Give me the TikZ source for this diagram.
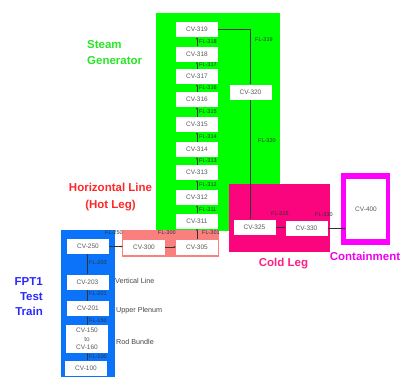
\documentclass[tikz,border=0pt]{standalone}
\usepackage{fontspec}
\setmainfont{Liberation Sans}
\usetikzlibrary{arrows.meta}
\definecolor{sggreen}{RGB}{0,255,0}
\definecolor{coldpink}{RGB}{250,5,125}
\definecolor{hotsalmon}{RGB}{250,128,128}
\definecolor{trainblue}{RGB}{10,115,250}
\definecolor{contmag}{RGB}{255,0,255}
\definecolor{sgtext}{RGB}{40,230,40}
\definecolor{hottext}{RGB}{255,40,40}
\definecolor{coldtext}{RGB}{255,30,130}
\definecolor{conttext}{RGB}{240,0,240}
\definecolor{traintext}{RGB}{40,40,255}
\definecolor{cvgray}{RGB}{90,90,90}
\definecolor{fltxt}{RGB}{50,50,50}
\definecolor{sidegray}{RGB}{70,70,70}
\definecolor{linegray}{RGB}{50,50,50}
\tikzset{
 cv/.style={fill=white, minimum width=42pt, minimum height=15pt, inner sep=0pt, font=\fontsize{6.5}{7}\selectfont, text=cvgray},
 fl/.style={draw=linegray, line width=0.25pt, -{Latex[length=2pt,width=1.8pt]}},
 fltext/.style={font=\fontsize{5.5}{6}\selectfont, text=fltxt, inner sep=0pt, anchor=west},
 ttl/.style={font=\fontsize{11.5}{13}\selectfont\bfseries, inner sep=0pt},
 side/.style={font=\fontsize{7.2}{8}\selectfont, text=sidegray, inner sep=0pt, anchor=west},
}
\begin{document}
\begin{tikzpicture}[x=1pt,y=-1pt]
\useasboundingbox (0,0) rectangle (401,376);
% regions
\fill[sggreen] (156,13) rectangle (280,231);
\fill[coldpink] (229,184) rectangle (330,252);
\fill[hotsalmon] (122,230) rectangle (219,257);
\fill[trainblue] (61,230) rectangle (115,380);
\fill[contmag] (341,173) rectangle (390,245);
% steam generator volumes
\node[cv] (cv319) at (197,29.5) {CV-319};
\node[cv] (cv318) at (197,54) {CV-318};
\node[cv] (cv317) at (197,76.5) {CV-317};
\node[cv] (cv316) at (197,99.5) {CV-316};
\node[cv] (cv315) at (197,124.5) {CV-315};
\node[cv] (cv314) at (197,149.5) {CV-314};
\node[cv] (cv313) at (197,172.5) {CV-313};
\node[cv] (cv312) at (197,197.5) {CV-312};
\node[cv] (cv311) at (197,221) {CV-311};
\node[cv] (cv320) at (250.5,92) {CV-320};
% cold leg, containment
\node[cv] (cv325) at (254.5,227) {CV-325};
\node[cv] (cv330) at (306.5,228.5) {CV-330};
\node[cv, minimum width=40pt, minimum height=60pt, text depth=-10pt] (cv400) at (366,209) {CV-400};
% hot leg
\node[cv] (cv300) at (144,247) {CV-300};
\node[cv] (cv305) at (197,247) {CV-305};
% test train
\node[cv] (cv250) at (88,246) {CV-250};
\node[cv] (cv203) at (87.5,282) {CV-203};
\node[cv] (cv201) at (88,308.5) {CV-201};
\node[cv, minimum height=28pt, align=center, font=\fontsize{6.5}{8.5}\selectfont] (cv150) at (87,339) {CV-150\\to\\CV-160};
\node[cv] (cv100) at (86,368) {CV-100};
% connectors
\draw[fl] (cv318) -- (cv319);
\draw[fl] (cv317) -- (cv318);
\draw[fl] (cv316) -- (cv317);
\draw[fl] (cv315) -- (cv316);
\draw[fl] (cv314) -- (cv315);
\draw[fl] (cv313) -- (cv314);
\draw[fl] (cv312) -- (cv313);
\draw[fl] (cv311) -- (cv312);
\draw[fl] (cv305) -- (cv311);
\draw[fl] (cv319.east) -| (cv320.north);
\draw[fl] (cv320.south) -- (cv320.south |- cv325.north);
\draw[fl] (cv325.east |- 0,227.5) -- (cv330.west |- 0,227.5);
\draw[fl] (cv330.east) -- (cv400.west |- cv330.east);
\draw[fl] (cv250.east |- 0,246.5) -- (cv300.west |- 0,246.5);
\draw[fl] (cv300) -- (cv305);
\draw[fl] (cv203) -- (cv250.south -| cv203);
\draw[fl] (cv201.north -| cv203) -- (cv203);
\draw[fl] (cv150.north -| cv203) -- (cv201.south -| cv203);
\draw[fl] (cv100.north -| cv203) -- (cv150.south -| cv203);
% flow labels
\node[fltext] (fl318) at (199,42) {FL-318};
\node[fltext] (fl317) at (199,65) {FL-317};
\node[fltext] (fl316) at (199,88) {FL-316};
\node[fltext] (fl315) at (199,112) {FL-315};
\node[fltext] (fl314) at (199,137) {FL-314};
\node[fltext] (fl313) at (199,161) {FL-313};
\node[fltext] (fl312) at (199,185) {FL-312};
\node[fltext] (fl311) at (199,209.5) {FL-311};
\node[fltext] (fl319) at (255,40) {FL-319};
\node[fltext] (fl320) at (258,141) {FL-320};
\node[fltext] (fl325) at (271,214) {FL-325};
\node[fltext] (fl330) at (315,215) {FL-330};
\node[fltext] (fl250) at (105,233) {FL-250};
\node[fltext] (fl300) at (158,233) {FL-300};
\node[fltext] (fl301) at (202,233) {FL-301};
\node[fltext] (fl203) at (89,263) {FL-203};
\node[fltext] (fl201) at (89,294) {FL-201};
\node[fltext] (fl150) at (89,321) {FL-150};
\node[fltext] (fl100) at (89,357) {FL-100};
% side labels
\node[side] (vline) at (115,281) {Vertical Line};
\node[side] (uplen) at (116,311) {Upper Plenum};
\node[side] (rodb) at (116,342) {Rod Bundle};
% titles
\node[ttl, text=sgtext, anchor=base west] (sg1) at (87,48) {Steam};
\node[ttl, text=sgtext, anchor=base west] (sg2) at (87,64) {Generator};
\node[ttl, text=hottext, anchor=base] (hl1) at (110.5,191) {Horizontal Line};
\node[ttl, text=hottext, anchor=base] (hl2) at (110.5,208) {(Hot Leg)};
\node[ttl, text=coldtext, anchor=base] (cl) at (283.5,266) {Cold Leg};
\node[ttl, text=conttext, anchor=base] (ct) at (365,260) {Containment};
\node[ttl, text=traintext, anchor=base east] (ft1) at (43,285) {FPT1};
\node[ttl, text=traintext, anchor=base east] (ft2) at (43,300) {Test};
\node[ttl, text=traintext, anchor=base east] (ft3) at (43,315) {Train};
\end{tikzpicture}
\end{document}
